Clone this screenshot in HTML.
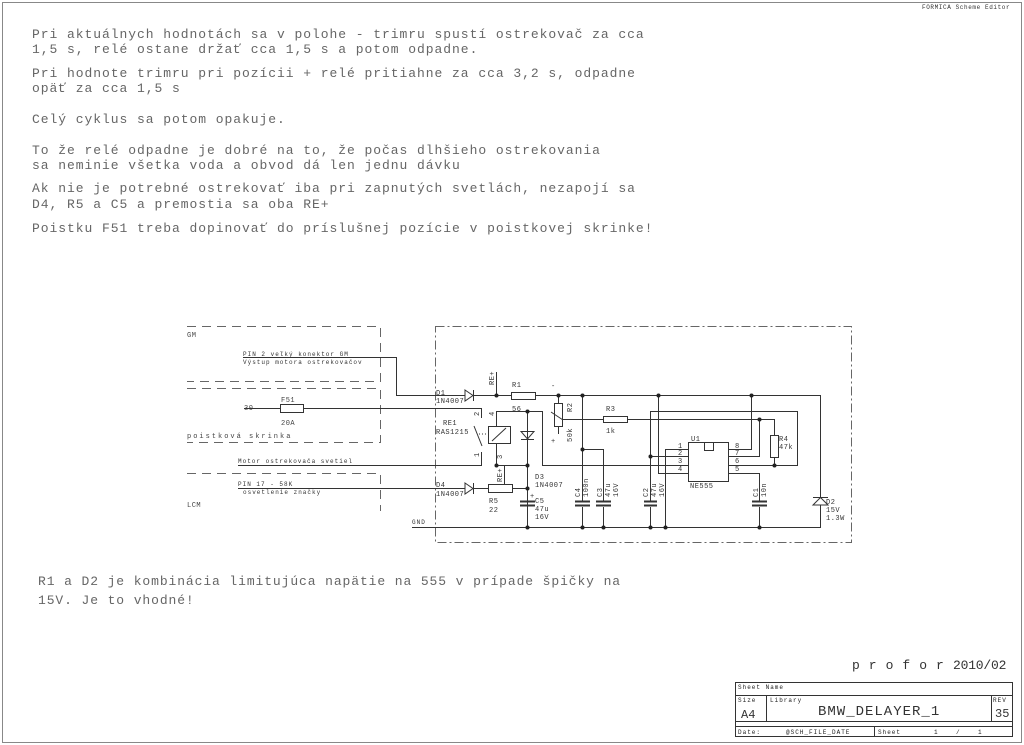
<!DOCTYPE html>
<html><head><meta charset="utf-8"><style>
html,body{margin:0;padding:0;background:#fff;}
svg{display:block;}
.t{font-family:"Liberation Mono",monospace;font-size:13px;letter-spacing:0.95px;fill:#666;}
.b{font-family:"Liberation Mono",monospace;font-size:13px;letter-spacing:0.9px;fill:#666;}
.s{font-family:"Liberation Mono",monospace;font-size:7px;letter-spacing:0.5px;fill:#333;}
.xs{font-family:"Liberation Mono",monospace;font-size:6px;letter-spacing:1px;fill:#333;}
</style></head><body>
<svg width="1024" height="745" viewBox="0 0 1024 745" xmlns="http://www.w3.org/2000/svg">
<rect x="2.5" y="2.5" width="1019" height="740" fill="none" stroke="#888" stroke-width="1"/>
<text x="922" y="9" class="xs" style="letter-spacing:0.6px">FORMICA Scheme Editor</text>

<g class="t">
<text x="32" y="38">Pri aktuálnych hodnotách sa v polohe - trimru spustí ostrekovač za cca</text>
<text x="32" y="53">1,5 s, relé ostane držať cca 1,5 s a potom odpadne.</text>
<text x="32" y="77">Pri hodnote trimru pri pozícii + relé pritiahne za cca 3,2 s, odpadne</text>
<text x="32" y="92">opäť za cca 1,5 s</text>
<text x="32" y="123">Celý cyklus sa potom opakuje.</text>
<text x="32" y="154">To že relé odpadne je dobré na to, že počas dlhšieho ostrekovania</text>
<text x="32" y="169">sa neminie všetka voda a obvod dá len jednu dávku</text>
<text x="32" y="192">Ak nie je potrebné ostrekovať iba pri zapnutých svetlách, nezapojí sa</text>
<text x="32" y="208">D4, R5 a C5 a premostia sa oba RE+</text>
<text x="32" y="232">Poistku F51 treba dopinovať do príslušnej pozície v poistkovej skrinke!</text>
</g>
<g class="b">
<text x="38" y="585">R1 a D2 je kombinácia limitujúca napätie na 555 v prípade špičky na</text>
<text x="38" y="604">15V. Je to vhodné!</text>
</g>

<g fill="none" stroke="#666" stroke-width="1" stroke-dasharray="9,6">
<path d="M187 326.5H380.5V381.5H187"/>
<path d="M187 388.5H380.5V442.5H187"/>
<path d="M187 473.5H380.5V511"/>
</g>
<rect x="435.5" y="326.5" width="416" height="216" fill="none" stroke="#666" stroke-dasharray="9,3,2,3"/>

<g class="s" style="fill:#444">
<text x="187" y="337">GM</text>
<text x="187" y="438" style="letter-spacing:2px">poistková skrinka</text>
<text x="187" y="507">LCM</text>
<text x="244" y="410">30</text>
<text x="281" y="402">F51</text>
<text x="281" y="425">20A</text>
</g>
<g class="xs">
<text x="243" y="356">PIN 2 veľký konektor GM</text>
<text x="243" y="364">Výstup motora ostrekovačov</text>
<text x="238" y="463">Motor ostrekovača svetiel</text>
<text x="238" y="486">PIN 17 - 58K</text>
<text x="243" y="494">osvetlenie značky</text>
<text x="412" y="524">GND</text>
</g>

<g fill="none" stroke="#333" stroke-width="1">
<path d="M243 357.5H396.5V395.5H465"/>
<path d="M465 390L473 395.5L465 401Z M473.5 390V401 M473 395.5H511"/>
<rect x="511.5" y="392.5" width="24" height="7"/>
<path d="M535 395.5H820.5V498"/>
<path d="M496.5 372V395.5"/>
<path d="M244 408.5H280"/>
<rect x="280.5" y="404.5" width="23" height="8"/>
<path d="M303 408.5H481.5V418 M474 426L482 446 M481.5 452V465.5H238"/>
<path d="M479 434H488" stroke-dasharray="1,2"/>
<rect x="488.5" y="426.5" width="22" height="17"/>
<path d="M492 441L506 428"/>
<path d="M496.5 426V411.5H527.5V527 M496.5 443V465.5H527"/>
<path d="M504.5 466V484"/>
<path d="M521 431.5H534L527.5 439Z M521 439.5H534"/>
<path d="M238 488.5H465 M465 483L473 488.5L465 494Z M473.5 483V494 M473 488.5H488"/>
<rect x="488.5" y="484.5" width="24" height="8"/>
<path d="M512 488.5H527"/>
<path d="M520 501.5H535 M520 505.5H535" stroke-width="2"/>
<path d="M412 527.5H820.5V505"/>
<path d="M813 497.5H828 M820.5 497.5L813 505H828Z"/>
<path d="M558.5 396V403"/>
<rect x="554.5" y="403.5" width="8" height="23"/>
<path d="M558.5 427V434"/>
<path d="M551 412L563 420 M563 419.5H603"/>
<rect x="603.5" y="416.5" width="24" height="6"/>
<path d="M627 419.5H774.5V435"/>
<rect x="770.5" y="435.5" width="8" height="22"/>
<path d="M774.5 457V465.5"/>
<path d="M527 411.5H542.5V465.5H688"/>
<path d="M728 465.5H797.5V411.5H650.5V502 M650.5 507V527"/>
<path d="M644 501.5H657 M644 505.5H657" stroke-width="2"/>
<path d="M582.5 396V501 M582.5 507V527"/>
<path d="M582.5 449.5H603.5V501 M603.5 507V527"/>
<path d="M665.5 527V449.5H688 M650 456.5H688 M658.5 396V473.5H688"/>
<rect x="688.5" y="442.5" width="40" height="39"/>
<rect x="704.5" y="442.5" width="9" height="8"/>
<path d="M728 449.5H751.5V396 M728 456.5H759.5V419 M728 473.5H759.5V501 M759.5 507V527"/>
</g>
<g stroke="#333" stroke-width="2">
<path d="M575 501.5H590 M575 505.5H590 M596 501.5H611 M596 505.5H611 M752 501.5H767 M752 505.5H767"/>
</g>
<g fill="#222">
<circle cx="496.5" cy="395.5" r="2"/><circle cx="527.5" cy="411.5" r="2"/>
<circle cx="496.5" cy="465.5" r="2"/><circle cx="527.5" cy="465.5" r="2"/>
<circle cx="527.5" cy="488.5" r="2"/><circle cx="527.5" cy="527.5" r="2"/>
<circle cx="558.5" cy="395.5" r="2"/><circle cx="582.5" cy="395.5" r="2"/>
<circle cx="658.5" cy="395.5" r="2"/><circle cx="751.5" cy="395.5" r="2"/>
<circle cx="759.5" cy="419.5" r="2"/><circle cx="582.5" cy="449.5" r="2"/>
<circle cx="650.5" cy="456.5" r="2"/><circle cx="774.5" cy="465.5" r="2"/>
<circle cx="582.5" cy="527.5" r="2"/><circle cx="603.5" cy="527.5" r="2"/>
<circle cx="650.5" cy="527.5" r="2"/><circle cx="665.5" cy="527.5" r="2"/>
<circle cx="759.5" cy="527.5" r="2"/>
</g>

<g class="s">
<text x="436" y="395">D1</text><text x="436" y="403">1N4007</text>
<text x="512" y="387">R1</text><text x="512" y="411">56</text>
<text x="443" y="425">RE1</text><text x="436" y="434">RAS1215</text>
<text x="436" y="487">D4</text><text x="436" y="496">1N4007</text>
<text x="489" y="503">R5</text><text x="489" y="512">22</text>
<text x="535" y="479">D3</text><text x="535" y="487">1N4007</text>
<text x="535" y="503">C5</text><text x="535" y="511">47u</text><text x="535" y="519">16V</text>
<text x="530" y="498">+</text>
<text x="606" y="411">R3</text><text x="606" y="433">1k</text>
<text x="779" y="441">R4</text><text x="779" y="449">47k</text>
<text x="691" y="441">U1</text><text x="690" y="488">NE555</text>
<text x="826" y="504">D2</text><text x="826" y="512">15V</text><text x="826" y="520">1.3W</text>
<text x="678" y="448">1</text><text x="678" y="455">2</text><text x="678" y="463">3</text><text x="678" y="471">4</text>
<text x="735" y="448">8</text><text x="735" y="455">7</text><text x="735" y="463">6</text><text x="735" y="471">5</text>
<text x="551" y="388">-</text><text x="551" y="443">+</text>
<text transform="translate(494,385) rotate(-90)">RE+</text>
<text transform="translate(502,482) rotate(-90)">RE+</text>
<text transform="translate(572,412) rotate(-90)">R2</text>
<text transform="translate(572,442) rotate(-90)">50k</text>
<text transform="translate(580,497) rotate(-90)">C4</text>
<text transform="translate(588,497) rotate(-90)">100n</text>
<text transform="translate(602,497) rotate(-90)">C3</text>
<text transform="translate(610,497) rotate(-90)">47u</text>
<text transform="translate(618,497) rotate(-90)">16V</text>
<text transform="translate(648,497) rotate(-90)">C2</text>
<text transform="translate(656,497) rotate(-90)">47u</text>
<text transform="translate(664,497) rotate(-90)">16V</text>
<text transform="translate(758,497) rotate(-90)">C1</text>
<text transform="translate(766,497) rotate(-90)">10n</text>
<text transform="translate(479,416) rotate(-90)">2</text>
<text transform="translate(494,416) rotate(-90)">4</text>
<text transform="translate(479,457) rotate(-90)">1</text>
<text transform="translate(502,459) rotate(-90)">3</text>
</g>

<text x="852" y="669" style="font-family:'Liberation Mono',monospace;font-size:13px;letter-spacing:0.6px;fill:#333">p r o f o r</text>
<text x="953" y="669" style="font-family:'Liberation Mono',monospace;font-size:13px;letter-spacing:-0.2px;fill:#333">2010/02</text>
<g fill="none" stroke="#333" stroke-width="1">
<rect x="735.5" y="682.5" width="277" height="54"/>
<path d="M735 695.5H1013 M735 721.5H1013 M735 726.5H1013 M766.5 695V721 M991.5 695V721 M874.5 726V737"/>
</g>
<g class="xs" style="fill:#222">
<text x="738" y="689">Sheet Name</text>
<text x="738" y="702">Size</text>
<text x="770" y="702">Library</text>
<text x="993" y="702">REV</text>
<text x="738" y="734">Date:</text>
<text x="786" y="734">@SCH_FILE_DATE</text>
<text x="878" y="734">Sheet</text>
<text x="934" y="734">1</text><text x="956" y="734">/</text><text x="978" y="734">1</text>
</g>
<text x="818" y="715" style="font-family:'Liberation Mono',monospace;font-size:14px;letter-spacing:1px;fill:#333">BMW_DELAYER_1</text>
<text x="741" y="718" style="font-family:'Liberation Mono',monospace;font-size:12px;fill:#333">A4</text>
<text x="995" y="717" style="font-family:'Liberation Mono',monospace;font-size:12px;fill:#333">35</text>
</svg>
</body></html>
